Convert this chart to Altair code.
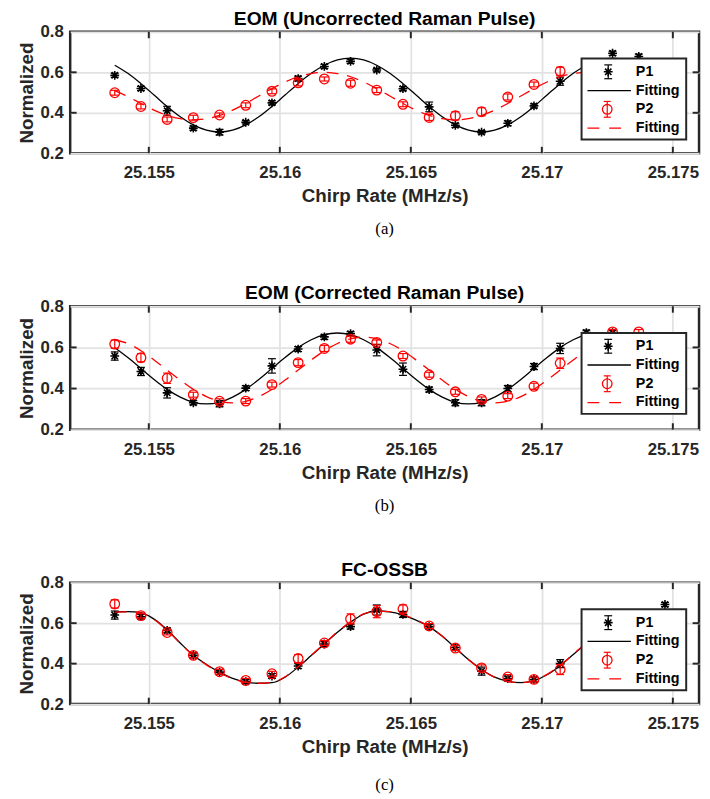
import altair as alt
import pandas as pd

# ---------------- data ----------------
X_PTS = [25.1537, 25.1547, 25.1557, 25.1567, 25.1577, 25.1587, 25.1597, 25.1607,
         25.1617, 25.1627, 25.1637, 25.1647, 25.1657, 25.1667, 25.1677, 25.1687,
         25.1697, 25.1707, 25.1717, 25.1727, 25.1737, 25.1747]

X_FIT = [25.1537, 25.1542, 25.1547, 25.1552, 25.1557, 25.1562, 25.1567, 25.1572,
         25.1577, 25.1582, 25.1587, 25.1592, 25.1597, 25.1602, 25.1607, 25.1612,
         25.1617, 25.1622, 25.1627, 25.1632, 25.1637, 25.1642, 25.1647, 25.1652,
         25.1657, 25.1662, 25.1667, 25.1672, 25.1677, 25.1682, 25.1687, 25.1692,
         25.1697, 25.1702, 25.1707, 25.1712, 25.1717, 25.1722, 25.1727, 25.1732,
         25.1737]

X_TICKS = [25.155, 25.16, 25.165, 25.17, 25.175]
Y_TICKS = [0.2, 0.4, 0.6, 0.8]
Y_INNER_TICKS = [0.4, 0.6]

# Panel (a) EOM (Uncorrected Raman Pulse)
A_P1 = [0.585, 0.520, 0.410, 0.324, 0.304, 0.353, 0.449, 0.569, 0.629, 0.654, 0.611,
        0.519, 0.429, 0.338, 0.304, 0.348, 0.434, 0.556, 0.645, 0.694, 0.678, None]
A_E1 = [0.010, 0.010, 0.022, 0.010, 0.014, 0.008, 0.010, 0.012, 0.010, 0.010, 0.008,
        0.010, 0.024, 0.010, 0.008, 0.012, 0.010, 0.020, 0.010, 0.010, 0.012, None]
A_P2 = [0.499, 0.431, 0.367, 0.376, 0.389, 0.437, 0.506, 0.548, 0.567, 0.546, 0.512,
        0.442, 0.377, 0.385, 0.405, 0.478, 0.540, 0.605, None, None, None, None]
A_E2 = [0.012, 0.012, 0.012, 0.012, 0.010, 0.012, 0.012, 0.015, 0.010, 0.015, 0.012,
        0.012, 0.015, 0.020, 0.020, 0.015, 0.012, 0.020, None, None, None, None]
A_F1 = [0.635, 0.595, 0.544, 0.488, 0.431, 0.380, 0.340, 0.314, 0.305, 0.314,
        0.340, 0.380, 0.431, 0.488, 0.544, 0.595, 0.635, 0.661, 0.670, 0.661,
        0.635, 0.595, 0.544, 0.488, 0.431, 0.380, 0.340, 0.314, 0.305, 0.314,
        0.340, 0.380, 0.431, 0.488, 0.544, 0.595, 0.635, 0.661, 0.670, 0.661, 0.635]
A_F2 = [0.510, 0.480, 0.446, 0.413, 0.387, 0.371, 0.365, 0.371, 0.387, 0.413,
        0.446, 0.483, 0.519, 0.552, 0.578, 0.594, 0.600, 0.594, 0.578, 0.552,
        0.519, 0.483, 0.446, 0.413, 0.387, 0.371, 0.365, 0.371, 0.387, 0.413,
        0.446, 0.483, 0.519, 0.552, 0.578, 0.594, 0.600, 0.594, 0.578, 0.552, 0.519]

# Panel (b) EOM (Corrected Raman Pulse)
B_P1 = [0.558, 0.483, 0.379, 0.331, 0.326, 0.402, 0.510, 0.592, 0.651, 0.667, 0.587,
        0.494, 0.395, 0.331, 0.331, 0.400, 0.507, 0.595, 0.672, 0.672, None, None]
B_E1 = [0.020, 0.020, 0.025, 0.010, 0.015, 0.012, 0.035, 0.012, 0.012, 0.010, 0.028,
        0.030, 0.012, 0.015, 0.015, 0.015, 0.015, 0.025, 0.012, 0.012, None, None]
B_P2 = [0.616, 0.550, 0.450, 0.370, 0.338, 0.339, 0.419, 0.526, 0.595, 0.640, 0.624,
        0.558, 0.467, 0.384, 0.347, 0.363, 0.411, 0.523, None, 0.675, 0.675, None]
B_E2 = [0.020, 0.020, 0.025, 0.012, 0.012, 0.012, 0.012, 0.015, 0.015, 0.015, 0.012,
        0.012, 0.012, 0.012, 0.012, 0.012, 0.015, 0.025, None, 0.012, 0.012, None]
B_F1 = [0.599, 0.551, 0.498, 0.444, 0.396, 0.358, 0.333, 0.325, 0.333, 0.358,
        0.396, 0.444, 0.498, 0.551, 0.599, 0.637, 0.662, 0.670, 0.662, 0.637,
        0.599, 0.551, 0.498, 0.444, 0.396, 0.358, 0.333, 0.325, 0.333, 0.358,
        0.396, 0.444, 0.498, 0.551, 0.599, 0.637, 0.662, 0.670, 0.662, 0.637, 0.599]
B_F2 = [0.636, 0.619, 0.584, 0.539, 0.490, 0.441, 0.396, 0.361, 0.338, 0.330,
        0.338, 0.361, 0.396, 0.441, 0.490, 0.539, 0.584, 0.619, 0.642, 0.650,
        0.642, 0.619, 0.584, 0.539, 0.490, 0.441, 0.396, 0.361, 0.338, 0.330,
        0.338, 0.361, 0.396, 0.441, 0.490, 0.539, 0.584, 0.619, 0.642, 0.650, 0.642]

# Panel (c) FC-OSSB
C_P1 = [0.640, 0.632, 0.564, 0.441, 0.358, 0.311, 0.339, 0.388, 0.497, 0.583, 0.665,
        0.643, 0.583, 0.480, 0.363, 0.326, 0.322, 0.400, None, None, None, 0.692]
C_E1 = [0.020, 0.012, 0.012, 0.012, 0.012, 0.010, 0.012, 0.012, 0.012, 0.012, 0.025,
        0.015, 0.012, 0.012, 0.020, 0.012, 0.012, 0.020, None, None, None, 0.010]
C_P2 = [0.695, 0.637, 0.554, 0.441, 0.360, 0.317, 0.350, 0.425, 0.502, 0.621, 0.657,
        0.670, 0.586, 0.477, 0.379, 0.334, 0.322, 0.371, None, None, None, None]
C_E2 = [0.020, 0.012, 0.012, 0.012, 0.012, 0.010, 0.012, 0.020, 0.012, 0.025, 0.030,
        0.020, 0.012, 0.012, 0.015, 0.012, 0.012, 0.025, None, None, None, None]
C_F1 = [0.656, 0.657, 0.652, 0.620, 0.567, 0.502, 0.441, 0.396, 0.358, 0.327,
        0.309, 0.303, 0.306, 0.333, 0.383, 0.440, 0.497, 0.555, 0.605, 0.645,
        0.660, 0.656, 0.640, 0.615, 0.583, 0.535, 0.478, 0.420, 0.371, 0.333,
        0.313, 0.306, 0.316, 0.345, 0.390, 0.445, 0.500, 0.550, 0.600, 0.635, 0.655]
C_F2 = [0.655, 0.656, 0.650, 0.618, 0.565, 0.500, 0.440, 0.394, 0.355, 0.325,
        0.308, 0.303, 0.307, 0.335, 0.385, 0.442, 0.499, 0.557, 0.607, 0.646,
        0.660, 0.657, 0.642, 0.616, 0.584, 0.536, 0.478, 0.419, 0.370, 0.332,
        0.312, 0.306, 0.317, 0.347, 0.392, 0.447, 0.502, 0.552, 0.601, 0.636, 0.655]

TITLES = ["EOM (Uncorrected Raman Pulse)", "EOM (Corrected Raman Pulse)", "FC-OSSB"]
CAPTIONS = ["(a)", "(b)", "(c)"]
LEGEND_LABELS = ["P1", "Fitting", "P2", "Fitting"]

# ---------------- style ----------------
W = 637
FONT = "Liberation Sans"
AX = "#262626"
STAR = "M-1,0L1,0M0,-1L0,1M-0.72,-0.72L0.72,0.72M-0.72,0.72L0.72,-0.72"
CAP = "M-1,0L1,0"
DASH = [12, 9]
ONE = pd.DataFrame({"d": [0]})


def points_df(vals, errs):
    rows = [dict(x=x, y=v, lo=v - e, hi=v + e)
            for x, v, e in zip(X_PTS, vals, errs) if v is not None]
    return pd.DataFrame(rows)


def panel(title, caption, H, cap_gap, p1, e1, p2, e2, f1, f2):
    xs = alt.Scale(domain=[25.152, 25.176], nice=False, zero=False)
    ys = alt.Scale(domain=[0.2, 0.8], nice=False, zero=False)
    xax = alt.Axis(values=X_TICKS, format=".3~f", title="Chirp Rate (MHz/s)")
    yax = alt.Axis(values=Y_TICKS, format=".1f", title="Normalized")
    X = alt.X("x:Q", scale=xs, axis=xax)

    def Y(f):
        return alt.Y(f, scale=ys, axis=yax)

    fit = pd.DataFrame({"x": X_FIT, "f1": f1, "f2": f2})
    layers = []

    # inward frame ticks
    xt = pd.DataFrame({"v": X_TICKS})
    yt = pd.DataFrame({"v": Y_INNER_TICKS})
    XV = alt.X("v:Q", scale=xs, axis=xax)
    YV = alt.Y("v:Q", scale=ys, axis=yax)
    layers.append(alt.Chart(xt).mark_rule(color=AX, strokeWidth=2).encode(
        x=XV, y=alt.value(0), y2=alt.value(6.5)))
    layers.append(alt.Chart(xt).mark_rule(color=AX, strokeWidth=2).encode(
        x=XV, y=alt.value(H), y2=alt.value(H - 6.5)))
    layers.append(alt.Chart(yt).mark_rule(color=AX, strokeWidth=2).encode(
        y=YV, x=alt.value(0), x2=alt.value(6.5)))
    layers.append(alt.Chart(yt).mark_rule(color=AX, strokeWidth=2).encode(
        y=YV, x=alt.value(W), x2=alt.value(W - 6.5)))

    def series(d, color, shape, size, sw):
        base = alt.Chart(d)
        return [
            base.mark_rule(color=color, strokeWidth=1.2).encode(x=X, y=Y("lo:Q"), y2="hi:Q"),
            base.mark_point(shape=CAP, size=64, filled=False, color=color,
                            strokeWidth=1.2, opacity=1).encode(x=X, y=Y("lo:Q")),
            base.mark_point(shape=CAP, size=64, filled=False, color=color,
                            strokeWidth=1.2, opacity=1).encode(x=X, y=Y("hi:Q")),
            base.mark_point(shape=shape, size=size, filled=False, color=color,
                            strokeWidth=sw, opacity=1).encode(x=X, y=Y("y:Q")),
        ]

    layers += series(points_df(p1, e1), "black", STAR, 80, 1.6)
    layers.append(alt.Chart(fit).mark_line(color="black", strokeWidth=1.3,
                                           interpolate="monotone").encode(x=X, y=Y("f1:Q")))
    layers += series(points_df(p2, e2), "red", "circle", 95, 1.3)
    layers.append(alt.Chart(fit).mark_line(color="red", strokeWidth=1.3, strokeDash=DASH,
                                           interpolate="monotone").encode(x=X, y=Y("f2:Q")))

    # legend box
    lx0, lx1, ly0, ly1 = 518, 624, 27, 109
    sx, lab_x = 545, 573
    rows_y = [40.5, 59.5, 78.5, 97.5]
    lg = alt.Chart(ONE)
    layers.append(lg.mark_rect(fill="white", stroke=AX, strokeWidth=2).encode(
        x=alt.value(lx0), x2=alt.value(lx1), y=alt.value(ly0), y2=alt.value(ly1)))
    # P1 symbol
    layers.append(lg.mark_rule(color="black", strokeWidth=1.2).encode(
        x=alt.value(sx), y=alt.value(rows_y[0] - 7), y2=alt.value(rows_y[0] + 7)))
    for dy in (-7, 7):
        layers.append(lg.mark_point(shape=CAP, size=64, filled=False, color="black",
                                    strokeWidth=1.2, opacity=1).encode(
            x=alt.value(sx), y=alt.value(rows_y[0] + dy)))
    layers.append(lg.mark_point(shape=STAR, size=80, filled=False, color="black",
                                strokeWidth=1.6, opacity=1).encode(
        x=alt.value(sx), y=alt.value(rows_y[0])))
    # Fitting (black)
    layers.append(lg.mark_rule(color="black", strokeWidth=1.3).encode(
        x=alt.value(524), x2=alt.value(568), y=alt.value(rows_y[1])))
    # P2 symbol
    layers.append(lg.mark_rule(color="red", strokeWidth=1.2).encode(
        x=alt.value(sx - 1), y=alt.value(rows_y[2] - 8), y2=alt.value(rows_y[2] + 8)))
    for dy in (-8, 8):
        layers.append(lg.mark_point(shape=CAP, size=50, filled=False, color="red",
                                    strokeWidth=1.2, opacity=1).encode(
            x=alt.value(sx - 1), y=alt.value(rows_y[2] + dy)))
    layers.append(lg.mark_point(shape="circle", size=95, filled=False, color="red",
                                strokeWidth=1.3, opacity=1).encode(
        x=alt.value(sx - 1), y=alt.value(rows_y[2])))
    # Fitting (red dashed)
    layers.append(lg.mark_rule(color="red", strokeWidth=1.3, strokeDash=[12, 10]).encode(
        x=alt.value(524), x2=alt.value(568), y=alt.value(rows_y[3])))
    for lbl, yy in zip(LEGEND_LABELS, rows_y):
        layers.append(lg.mark_text(align="left", baseline="middle", font=FONT,
                                   fontSize=14.5, fontWeight="bold", color="black").encode(
            x=alt.value(lab_x), y=alt.value(yy), text=alt.value(lbl)))

    # panel title above the frame
    layers.append(lg.mark_text(align="center", baseline="top", font=FONT,
                               fontSize=19.5, fontWeight="bold", color="black").encode(
        x=alt.value(W / 2), y=alt.value(-22), text=alt.value(title)))

    # caption below the axis title
    layers.append(lg.mark_text(align="center", baseline="middle", font="Liberation Serif",
                               fontSize=17, color="black").encode(
        x=alt.value(W / 2), y=alt.value(H + cap_gap), text=alt.value(caption)))

    return alt.layer(*layers).properties(width=W, height=H)


pa = panel(TITLES[0], CAPTIONS[0], 123, 77, A_P1, A_E1, A_P2, A_E2, A_F1, A_F2)
pb = panel(TITLES[1], CAPTIONS[1], 125, 77, B_P1, B_E1, B_P2, B_E2, B_F1, B_F2)
pc = panel(TITLES[2], CAPTIONS[2], 123, 82, C_P1, C_E1, C_P2, C_E2, C_F1, C_F2)

chart = alt.vconcat(pa, pb, pc, spacing=43).resolve_scale(
    x="independent", y="independent"
).properties(
    padding={"left": 8, "top": -6, "right": 0, "bottom": 0}
).configure_view(
    stroke=AX, strokeWidth=2.5
).configure_axis(
    labelFont=FONT, labelFontSize=17, labelFontWeight="bold", labelColor=AX,
    titleFont=FONT, titleFontSize=19, titleFontWeight="bold", titleColor=AX,
    grid=True, gridColor="#e2e2e2", gridWidth=1.8,
    domain=False, ticks=False, tickSize=0
).configure_axisX(
    labelPadding=12, titlePadding=6
).configure_axisY(
    labelPadding=7, titlePadding=4
)

chart.save("out.html", embed_options={"renderer": "svg", "actions": False})
